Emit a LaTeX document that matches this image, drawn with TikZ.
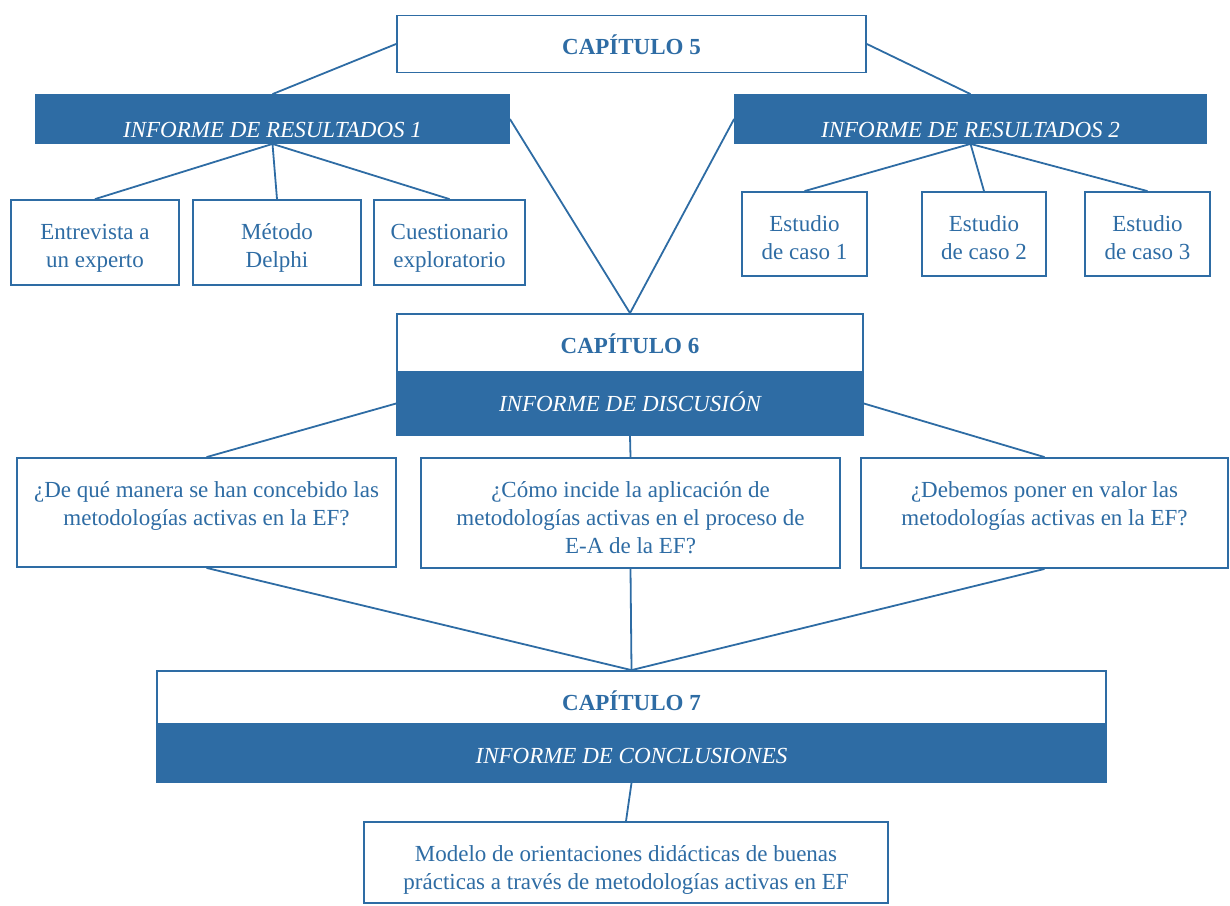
\documentclass[tikz,border=0pt]{standalone}
\usepackage{fontspec}
\setmainfont{Liberation Serif}
\usepackage{tikz}
\definecolor{capblue}{HTML}{2E6CA4}

\begin{document}
\begin{tikzpicture}[x=1pt, y=-1pt,
    BoxStyle/.style = {shape=rectangle, draw=capblue, line width=1.8pt, fill=white, text=capblue, align=center,
                       inner xsep=0pt, inner ysep=0pt, text height=39pt, font=\fontsize{23}{28}\selectfont},
    TwoLines/.style = {BoxStyle, text height=67pt},
    ThreeLines/.style = {BoxStyle, text height=95pt},
    TitleStyle/.style = {BoxStyle, font=\fontsize{23}{28}\selectfont\bfseries},
    BarStyle/.style = {BoxStyle, fill=capblue, text=white, font=\fontsize{23}{28}\selectfont\itshape}]
    \useasboundingbox (0,0) rectangle (1230,905);

    % chapter 5
    \node[TitleStyle, minimum width=469pt, text depth=18pt] (cap5) at (631.5,44) {CAPÍTULO 5};
    \node[BarStyle, minimum width=473pt, text height=42pt, text depth=6pt] (res1) at (272.5,119) {INFORME DE RESULTADOS 1};
    \node[BarStyle, minimum width=471pt, text height=42pt, text depth=6pt] (res2) at (970.5,119) {INFORME DE RESULTADOS 2};

    \node[TwoLines, minimum width=168pt, text depth=18pt] (entrev) at (95,242.5) {Entrevista a\\un experto};
    \node[TwoLines, minimum width=168pt, text depth=18pt] (delphi) at (277,242.5) {Método\\Delphi};
    \node[TwoLines, minimum width=151pt, text depth=18pt] (cuest) at (449.5,242.5) {Cuestionario\\exploratorio};

    \node[TwoLines, minimum width=125pt, text depth=17pt] (caso1) at (804.5,234) {Estudio\\de caso 1};
    \node[TwoLines, minimum width=124pt, text depth=17pt] (caso2) at (984,234) {Estudio\\de caso 2};
    \node[TwoLines, minimum width=125pt, text depth=17pt] (caso3) at (1147.5,234) {Estudio\\de caso 3};

    % chapter 6
    \node[TitleStyle, minimum width=466pt, text depth=19pt] (cap6) at (630,343) {CAPÍTULO 6};
    \node[BarStyle, minimum width=466pt, text depth=24pt] (disc) at (630,403.5) {INFORME DE DISCUSIÓN};

    \node[TwoLines, minimum width=379pt, text depth=42pt] (preg1) at (206.5,512.5)
        {¿De qué manera se han concebido las\\metodologías activas en la EF?};
    \node[ThreeLines, minimum width=419pt, text depth=15pt] (preg2) at (630.5,513)
        {¿Cómo incide la aplicación de\\metodologías activas en el proceso de\\E-A de la EF?};
    \node[TwoLines, minimum width=367pt, text depth=43pt] (preg3) at (1044.5,513)
        {¿Debemos poner en valor las\\metodologías activas en la EF?};

    % chapter 7
    \node[TitleStyle, minimum width=949pt, text depth=14pt] (cap7) at (631.5,697.5) {CAPÍTULO 7};
    \node[BarStyle, minimum width=949pt, text depth=19pt] (concl) at (631.5,753) {INFORME DE CONCLUSIONES};

    \node[TwoLines, minimum width=524pt, text depth=14pt] (modelo) at (626,862.5)
        {Modelo de orientaciones didácticas de buenas\\prácticas a través de metodologías activas en EF};

    \path[draw=capblue, line width=1.8pt]
        (cap5.west) edge (res1.north)
        (cap5.east) edge (res2.north)
        (res1.south) edge (entrev.north)
        (res1.south) edge (delphi.north)
        (res1.south) edge (cuest.north)
        (res2.south) edge (caso1.north)
        (res2.south) edge (caso2.north)
        (res2.south) edge (caso3.north)
        (res1.east) edge (cap6.north)
        (res2.west) edge (cap6.north)
        (disc.west) edge (preg1.north)
        (disc.south) edge (preg2.north)
        (disc.east) edge (preg3.north)
        (preg1.south) edge (cap7.north)
        (preg2.south) edge (cap7.north)
        (preg3.south) edge (cap7.north)
        (concl.south) edge (modelo.north)
    ;
\end{tikzpicture}
\end{document}
